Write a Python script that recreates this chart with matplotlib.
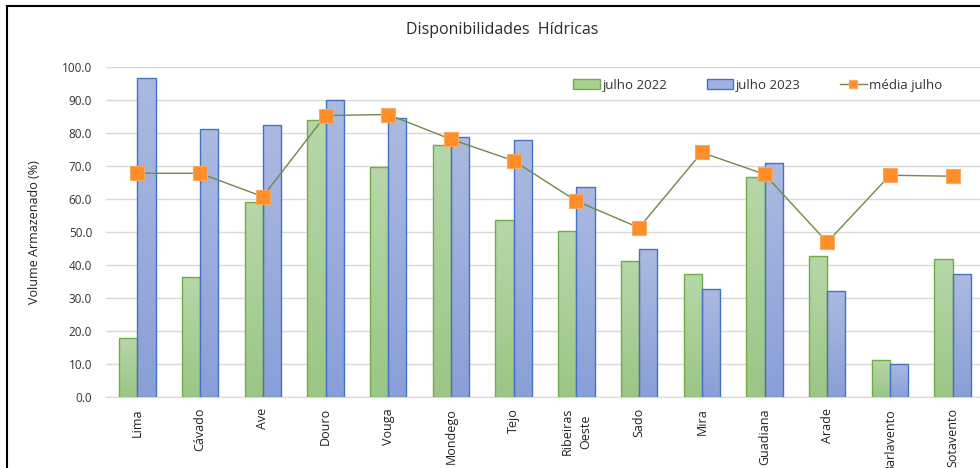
import numpy as np
import matplotlib
matplotlib.use("Agg")
import matplotlib.pyplot as plt
from matplotlib.colors import LinearSegmentedColormap
from matplotlib.patches import Rectangle

plt.rcParams['font.family'] = ['Open Sans', 'DejaVu Sans']

bacias = ['Lima', 'Cávado', 'Ave', 'Douro', 'Vouga', 'Mondego', 'Tejo',
          'Ribeiras\nOeste', 'Sado', 'Mira', 'Guadiana', 'Arade',
          'Barlavento', 'Sotavento']
julho_2022 = [18.0, 36.4, 59.0, 84.0, 69.8, 76.4, 53.5, 50.3, 41.1, 37.3, 66.6, 42.6, 11.2, 41.7]
julho_2023 = [96.8, 81.1, 82.4, 90.0, 84.4, 78.9, 78.0, 63.7, 44.8, 32.8, 70.9, 32.2, 10.0, 37.3]
media_julho = [67.8, 67.8, 60.7, 85.3, 85.6, 78.1, 71.6, 59.4, 51.3, 74.1, 67.5, 46.9, 67.2, 66.9]

fig = plt.figure(figsize=(9.8, 4.68), dpi=100)
ax = fig.add_axes([106 / 980, 1 - 397 / 468, 878 / 980, 330 / 468])

x = np.arange(len(bacias))
w = 0.29

green_cm = LinearSegmentedColormap.from_list('g', ['#9bc686', '#b7d7a9'])
blue_cm = LinearSegmentedColormap.from_list('b', ['#899fd8', '#abbae1'])
grad = np.linspace(0, 1, 100).reshape(-1, 1)


def gradient_bars(xpos, vals, cmap, edge):
    bars = ax.bar(xpos, vals, w, facecolor='none', edgecolor=edge, linewidth=1.0, zorder=3)
    for b in bars:
        x0, y0 = b.get_x(), b.get_y()
        im = ax.imshow(grad, cmap=cmap, origin='lower', aspect='auto',
                       extent=[x0, x0 + b.get_width(), y0, y0 + b.get_height()], zorder=2)
        im.set_clip_path(b)
    return bars


gradient_bars(x - w / 2, julho_2022, green_cm, '#70ad47')
gradient_bars(x + w / 2, julho_2023, blue_cm, '#4472c4')

ax.plot(x, media_julho, color='#6f8a4a', linewidth=1.0, marker='s', markersize=9.5,
        markerfacecolor='#ff8d28', markeredgecolor='#f8a968', markeredgewidth=0.8, zorder=4)

ax.set_xlim(-0.5, 13.5)
ax.set_ylim(0, 100)
ax.set_yticks(np.arange(0, 101, 10))
ax.set_yticklabels([f'{v:.1f}' for v in np.arange(0, 101, 10)], fontsize=8.5, color='#333333')
ax.set_xticks(x)
ax.set_xticklabels(bacias, rotation=90, fontsize=9, color='#222222', linespacing=1.5)
ax.tick_params(length=0, pad=8)
ax.tick_params(axis='y', pad=10)
ax.grid(axis='y', color='#d9d9d9', linewidth=1.0, zorder=0)
ax.set_axisbelow(True)
for s in ['top', 'right', 'left']:
    ax.spines[s].set_visible(False)
ax.spines['bottom'].set_color('#d9d9d9')
ax.patch.set_alpha(0)

fig.text(35 / 980, 1 - 232 / 468, 'Volume Armazenado (%)', rotation=90,
         ha='center', va='center', fontsize=9, color='#222222')
fig.text(502 / 980, 1 - 30 / 468, 'Disponibilidades  Hídricas', ha='center', va='center',
         fontsize=11.5, color='#2b2b2b')

h1 = Rectangle((0, 0), 1, 1, facecolor='#a9d08e', edgecolor='#70ad47')
h2 = Rectangle((0, 0), 1, 1, facecolor='#9fb2e0', edgecolor='#4472c4')
h3, = ax.plot([], [], color='#6f8a4a', linewidth=1.0, marker='s', markersize=6,
              markerfacecolor='#ff8d28', markeredgecolor='#f8a968')
fig.legend([h1, h2, h3], ['julho 2022', 'julho 2023', 'média julho'], ncol=3,
           loc='center', bbox_to_anchor=(758 / 980, 1 - 85 / 468), frameon=False,
           fontsize=9.5, handlelength=2.0, handleheight=0.7, handletextpad=0.2,
           columnspacing=3.0, labelcolor='#333333')

fig.patches.append(Rectangle((7 / 980, -0.1), 1.2, 1 - 6 / 468 + 0.1, transform=fig.transFigure,
                             fill=False, edgecolor='black', linewidth=1.5, zorder=0))

fig.savefig('out.png', dpi=100)
